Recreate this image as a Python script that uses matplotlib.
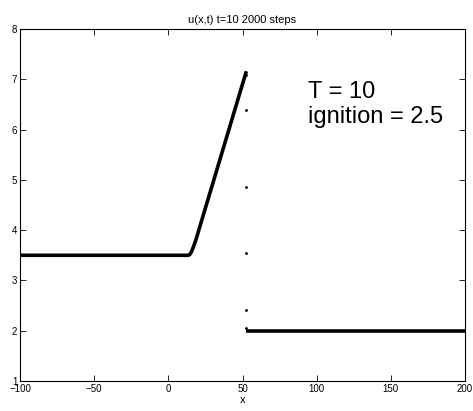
import numpy as np
import matplotlib
matplotlib.use('Agg')
import matplotlib.pyplot as plt

plt.rcParams['font.family'] = ['Liberation Sans', 'DejaVu Sans']

# left state, ramp up to the front
x_left = [-100, 13.5, 14.6, 15.6, 16.8, 18.5, 52.6]
u_left = [3.5, 3.5, 3.52, 3.57, 3.66, 3.8, 7.16]

# isolated points sitting at the jump
x_jump = [52.6, 52.6, 52.6, 52.6, 52.6, 52.6]
u_jump = [7.08, 6.39, 4.86, 3.55, 2.41, 2.06]

# right state (unburnt)
x_right = [52.6, 200]
u_right = [2.0, 2.0]

fig = plt.figure(figsize=(4.73, 4.11), dpi=100)
ax = fig.add_axes([0.0423, 0.073, 0.9408, 0.8564])

ax.plot(x_left, u_left, 'k-', lw=2.6, solid_capstyle='butt')
ax.plot(x_jump, u_jump, 'k.', ms=2)
ax.plot(x_right, u_right, 'k-', lw=2.6, solid_capstyle='butt')

ax.set_xlim(-100, 200)
ax.set_ylim(1, 8)
ax.set_xticks([-100, -50, 0, 50, 100, 150, 200])
ax.set_xticklabels(['\u2212100', '\u221250', '0', '50', '100', '150', '200'])
ax.set_yticks(range(1, 9))
ax.tick_params(direction='in', top=True, right=True, labelsize=7, length=4,
               width=0.6, pad=2)
for s in ax.spines.values():
    s.set_linewidth(0.8)

ax.set_xlabel('x', fontsize=8, labelpad=1)
ax.set_title('u(x,t) t=10 2000 steps', fontsize=8, pad=4)

ax.text(0.647, 0.853, 'T = 10\nignition = 2.5', transform=ax.transAxes,
        fontsize=17, va='top', ha='left', linespacing=1.22)

fig.savefig('out.png', dpi=100)
